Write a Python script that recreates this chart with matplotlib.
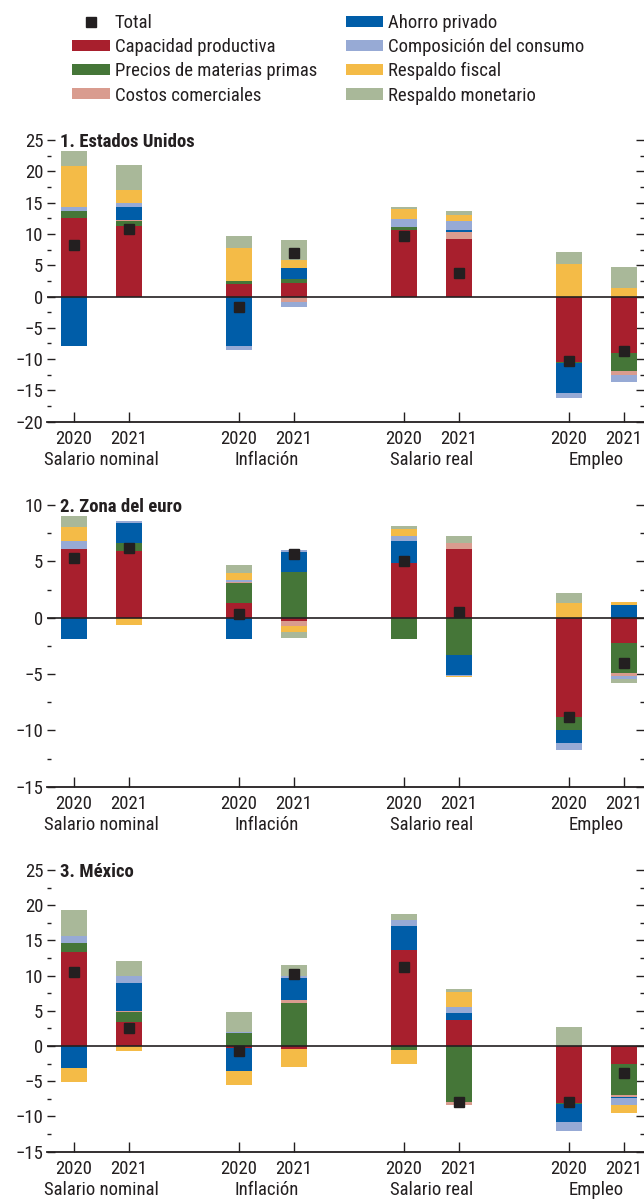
import numpy as np
import matplotlib
matplotlib.use("Agg")
import matplotlib.pyplot as plt
from matplotlib.patches import Patch
from matplotlib.lines import Line2D

components = ["Capacidad productiva", "Precios de materias primas", "Costos comerciales",
              "Ahorro privado", "Composición del consumo", "Respaldo fiscal", "Respaldo monetario"]
colors = ["#A81F2D", "#457638", "#D99C8F", "#005DA8", "#97AAD5", "#F4BB47", "#A9B899"]
years = ["2020", "2021"]
groups = ["Salario nominal", "Inflación", "Salario real", "Empleo"]
titles = ["1. Estados Unidos", "2. Zona del euro", "3. México"]

us_capacidad = [12.55, 11.2, 1.98, 2.08, 10.58, 9.13, -10.4, -8.97]
us_precios = [1.07, 0.8, 0.43, 0.64, 0.48, 0.0, -0.16, -2.88]
us_costos = [0.0, 0.16, 0.0, -0.9, 0.0, 1.12, 0.0, -0.64]
us_ahorro = [-7.85, 2.08, -7.85, 1.76, 0.0, 0.32, -4.8, 0.0]
us_composicion = [0.64, 0.64, -0.64, -0.85, 1.28, 1.44, -0.9, -1.12]
us_fiscal = [6.57, 2.14, 5.34, 1.28, 1.6, 0.96, 5.13, 1.34]
us_monetario = [2.40, 3.95, 1.87, 3.2, 0.32, 0.64, 1.92, 3.31]
us_total = [8.17, 10.8, -1.6, 6.94, 9.6, 3.69, -10.26, -8.76]

ez_capacidad = [6.09, 5.92, 1.3, -0.3, 4.85, 6.09, -8.82, -2.25]
ez_precios = [0.0, 0.71, 1.78, 4.05, -1.89, -3.31, -1.15, -2.66]
ez_costos = [0.0, 0.0, 0.09, -0.44, 0.0, 0.53, 0.0, -0.24]
ez_ahorro = [-1.89, 1.78, -1.89, 1.78, 1.95, -1.75, -1.15, 1.12]
ez_composicion = [0.71, 0.18, 0.2, 0.18, 0.44, -0.09, -0.62, -0.3]
ez_fiscal = [1.24, -0.65, 0.59, -0.53, 0.62, -0.12, 1.3, 0.27]
ez_monetario = [1.0, 0.0, 0.71, -0.5, 0.27, 0.62, 0.89, -0.36]
ez_total = [5.33, 6.2, 0.35, 5.65, 5.06, 0.5, -8.79, -4.0]

mx_capacidad = [13.3, 3.46, -0.33, -0.38, 13.7, 3.74, -8.06, -2.51]
mx_precios = [1.37, 1.42, 1.85, 6.16, -0.52, -7.91, -0.14, -4.5]
mx_costos = [0.0, 0.14, 0.0, 0.43, 0.0, -0.43, 0.0, -0.19]
mx_ahorro = [-3.08, 3.98, -3.18, 3.13, 3.41, 1.0, -2.56, -0.14]
mx_composicion = [1.0, 1.0, 0.19, 0.28, 0.85, 0.85, -1.28, -1.0]
mx_fiscal = [-2.0, -0.66, -2.0, -2.56, -2.0, 2.04, 0.0, -1.14]
mx_monetario = [3.7, 2.13, 2.84, 1.56, 0.85, 0.52, 2.75, 0.0]
mx_total = [10.57, 2.5, -0.66, 10.28, 11.28, -7.91, -7.91, -3.79]

panels = [
    ([us_capacidad, us_precios, us_costos, us_ahorro, us_composicion, us_fiscal, us_monetario], us_total, (-20, 25)),
    ([ez_capacidad, ez_precios, ez_costos, ez_ahorro, ez_composicion, ez_fiscal, ez_monetario], ez_total, (-15, 10)),
    ([mx_capacidad, mx_precios, mx_costos, mx_ahorro, mx_composicion, mx_fiscal, mx_monetario], mx_total, (-15, 25)),
]

TXT = "#231f20"
W, H = 644, 1199
plt.rcParams['font.family'] = ['Roboto Condensed', 'DejaVu Sans']
fig = plt.figure(figsize=(W / 100, H / 100), dpi=100)
FS = 13.5

x = np.array([0, 1, 3, 4, 6, 7, 9, 10], dtype=float)
left_px = 47
xmin = (left_px - 74) / 55
xmax = (W - 74) / 55
bottoms_px = [421.7, 786.7, 1151.7]
ax_h = 281.7

for (comps, total, ylim), title, bpx in zip(panels, titles, bottoms_px):
    ax = fig.add_axes([left_px / W, 1 - bpx / H, (W - left_px) / W, ax_h / H])
    pos = np.zeros(len(x))
    neg = np.zeros(len(x))
    for vals, c in zip(comps, colors):
        v = np.array(vals)
        b = np.where(v >= 0, pos, neg)
        ax.bar(x, v, width=0.49, bottom=b, color=c, linewidth=0, zorder=2)
        pos = pos + np.where(v >= 0, v, 0)
        neg = neg + np.where(v < 0, v, 0)
    ax.plot(x, total, linestyle='none', marker='s', ms=7.7, color=TXT, zorder=4)
    ax.axhline(0, color=TXT, lw=1.2, zorder=3)
    ax.set_xlim(xmin, xmax)
    ax.set_ylim(*ylim)
    ax.set_yticks(np.arange(ylim[0], ylim[1] + 1, 5))
    ax.set_yticks(np.arange(ylim[0], ylim[1] + 0.1, 2.5), minor=True)
    ax.set_xticks(x)
    ax.set_xticklabels(years * 4)
    for s in ['left', 'top', 'right']:
        ax.spines[s].set_visible(False)
    ax.spines['bottom'].set_color(TXT)
    ax.spines['bottom'].set_linewidth(1.3)
    ax.tick_params(axis='y', which='major', direction='in', length=6, width=1, colors=TXT,
                   labelsize=FS, pad=2.7, right=True, labelright=False)
    ax.tick_params(axis='y', which='minor', direction='in', length=3, width=1, colors=TXT, right=True)
    ax.tick_params(axis='x', which='major', direction='in', length=7, width=1, colors=TXT,
                   labelsize=FS, pad=5.8)
    for g, name in enumerate(groups):
        ax.text((x[2 * g] + x[2 * g + 1]) / 2, -43.3 / ax_h, name, transform=ax.get_xaxis_transform(),
                ha='center', va='baseline', fontsize=FS, color=TXT)
    ax.text(0.0218, 1 - 6.7 / ax_h, title, transform=ax.transAxes, ha='left', va='baseline',
            fontsize=FS, fontweight='bold', color=TXT)

handles = [Line2D([], [], linestyle='none', marker='s', ms=7, color=TXT)]
handles += [Patch(facecolor=c, linewidth=0) for c in colors]
labels = ["Total"] + components
fig.legend(handles, labels, ncol=2, loc='upper left', bbox_to_anchor=(72 / W, 1 - 14 / H),
           frameon=False, fontsize=FS, handlelength=2.0, handleheight=0.53, handletextpad=0.27,
           columnspacing=1.55, labelspacing=0.33, borderpad=0, borderaxespad=0, labelcolor=TXT)

fig.savefig("out.png", dpi=100)
